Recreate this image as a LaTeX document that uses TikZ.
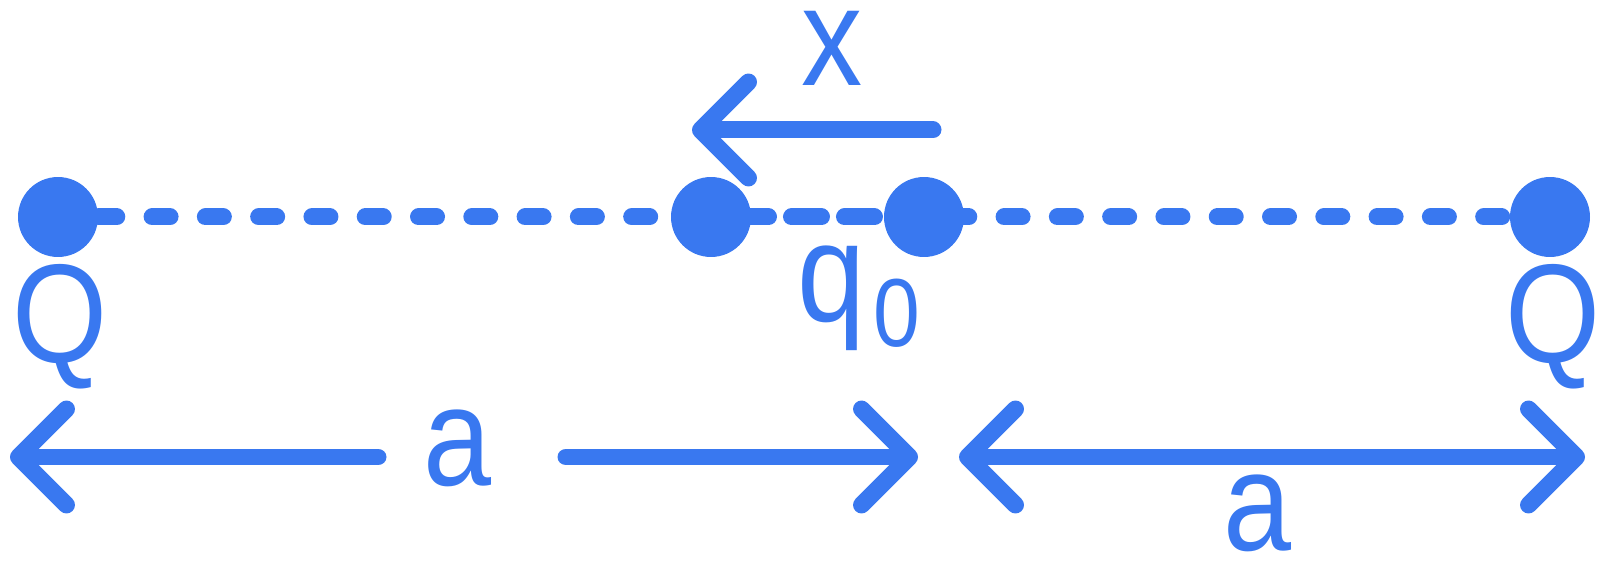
\documentclass[tikz,border=0pt]{standalone}
\usepackage{fontspec}
\setmainfont[FakeStretch=0.87]{Liberation Sans}
\usetikzlibrary{arrows.meta,backgrounds}
\definecolor{chargeblue}{RGB}{57,120,240}

\begin{document}
\begin{tikzpicture}[x=0.02cm,y=-0.02cm,
  charge/.style={circle,fill=chargeblue,minimum size=1.6cm,inner sep=0pt},
  lbl/.style={text=chargeblue,inner sep=0pt,font=\fontsize{80}{96}\selectfont},
  axis/.style={draw=chargeblue,line width=0.34cm,line cap=round},
  arr/.style={draw=chargeblue,line width=0.34cm,line cap=round},
  >={Straight Barb[length=0.96cm,width=1.92cm,line width=0.34cm,round]}]
\useasboundingbox (0,0) rectangle (1600,567);

% Charges on the line
\node[charge] (QL) at (58,217) {};
\node[charge] (qd) at (711,217) {};
\node[charge] (qo) at (924,217) {};
\node[charge] (QR) at (1550,217) {};

% Labels
\node[lbl,anchor=base] (QLlbl) at (60,363) {Q};
\node[lbl,anchor=base] (QRlbl) at (1553,363) {Q};
\node[lbl,anchor=base west] (q0lbl) at (797,322) {q\kern0.16cm\raisebox{-0.5cm}{\fontsize{55}{66}\selectfont 0}};
\node[lbl,anchor=base] (xlbl) at (832,86) {x};
\node[lbl,anchor=base] (aleft) at (458,486) {a};
\node[lbl,anchor=base] (aright) at (1257,551) {a};

% Dotted line behind the charges
\begin{scope}[on background layer]
\draw[axis,dash pattern=on 0.36cm off 0.706cm,dash phase=0.25cm] (QL.center) -- (qd.center);
\draw[axis,dash pattern=on 0.6cm off 0.46cm,dash phase=0.51cm] (qd.center) -- (qo.center);
\draw[axis,dash pattern=on 0.36cm off 0.706cm,dash phase=0.53cm] (qo.center) -- (QR.center);
\end{scope}

% Displacement x
\coordinate (xs) at (933,130);
\coordinate (xe) at (692,130);
\draw[arr,->] (xs) -- (xe);

% Distances a
\coordinate (a1s) at (378,457);
\coordinate (a1e) at (10,457);
\coordinate (a2s) at (566,457);
\coordinate (a2e) at (918,457);
\coordinate (bs) at (959,457);
\coordinate (be) at (1585,457);
\draw[arr,->] (a1s) -- (a1e);
\draw[arr,->] (a2s) -- (a2e);
\draw[arr,<->] (bs) -- (be);
\end{tikzpicture}
\end{document}
